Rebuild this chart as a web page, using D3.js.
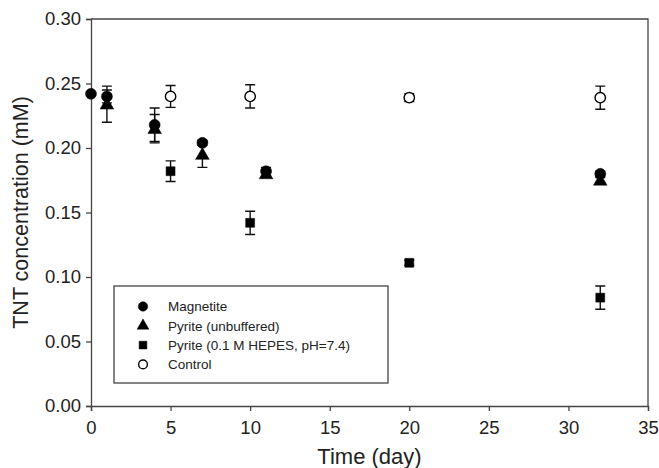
<!DOCTYPE html>
<html>
<head>
<meta charset="utf-8">
<script src="https://cdn.jsdelivr.net/npm/d3@7"></script>
<style>
  html, body { margin: 0; padding: 0; background: #fff; }
  svg { display: block; }
  text { font-family: "Liberation Sans", Arial, sans-serif; fill: #222; }
</style>
</head>
<body>
<svg id="chart" width="659" height="468"></svg>
<script>
// ---- data ----
const magnetiteDays = [0, 1, 4, 7, 11, 32];
const magnetiteValues = [0.242, 0.240, 0.218, 0.204, 0.182, 0.180];
const magnetiteErr = [0, 0.005, 0.013, 0.002, 0.003, 0.002];

const pyriteDays = [1, 4, 7, 11, 32];
const pyriteValues = [0.234, 0.215, 0.195, 0.180, 0.175];
const pyriteErr = [0.014, 0.011, 0.010, 0.002, 0.002];

const hepesDays = [5, 10, 20, 32];
const hepesValues = [0.182, 0.142, 0.111, 0.084];
const hepesErr = [0.008, 0.009, 0.002, 0.009];

const controlDays = [5, 10, 20, 32];
const controlValues = [0.240, 0.240, 0.239, 0.239];
const controlErr = [0.0085, 0.009, 0.003, 0.009];

const xTicks = [0, 5, 10, 15, 20, 25, 30, 35];
const yTicks = [0.00, 0.05, 0.10, 0.15, 0.20, 0.25, 0.30];
const legendLabels = ["Magnetite", "Pyrite (unbuffered)", "Pyrite (0.1 M HEPES, pH=7.4)", "Control"];

// ---- layout ----
const W = 659, H = 468;
const margin = { left: 91, right: 11, top: 19, bottom: 62 };
const svg = d3.select("#chart");
const x = d3.scaleLinear().domain([0, 35]).range([margin.left, W - margin.right]);
const y = d3.scaleLinear().domain([0, 0.30]).range([H - margin.bottom, margin.top]);
const axisColor = "#444";

// frame (top and right)
svg.append("path")
  .attr("d", `M${x(0)},${y(0.30)}H${x(35)}V${y(0)}`)
  .attr("fill", "none").attr("stroke", axisColor).attr("stroke-width", 1.3);

// axes
const xAxis = svg.append("g").attr("transform", `translate(0,${y(0)})`)
  .call(d3.axisBottom(x).tickValues(xTicks).tickFormat(d3.format("d")).tickSizeOuter(0).tickSize(5).tickPadding(10));
const yAxis = svg.append("g").attr("transform", `translate(${x(0)},0)`)
  .call(d3.axisLeft(y).tickValues(yTicks).tickFormat(d3.format(".2f")).tickSizeOuter(0).tickSize(5).tickPadding(5));
[xAxis, yAxis].forEach(g => {
  g.select(".domain").attr("stroke", axisColor).attr("stroke-width", 1.3);
  g.selectAll(".tick line").attr("stroke", axisColor).attr("stroke-width", 1.3);
  g.selectAll(".tick text").attr("font-size", 18.5).attr("fill", "#222")
    .attr("font-family", "Liberation Sans, Arial, sans-serif");
});

// axis titles
svg.append("text").attr("x", (x(0) + x(35)) / 2).attr("y", 464)
  .attr("text-anchor", "middle").attr("font-size", 22).text("Time (day)");
svg.append("text")
  .attr("transform", `translate(28,${(y(0) + y(0.30)) / 2}) rotate(-90)`)
  .attr("text-anchor", "middle").attr("font-size", 21.5).text("TNT concentration (mM)");

// series
const series = [
  { days: pyriteDays, vals: pyriteValues, err: pyriteErr, sym: d3.symbolTriangle, size: 80, fill: "#000" },
  { days: magnetiteDays, vals: magnetiteValues, err: magnetiteErr, sym: d3.symbolCircle, size: 95, fill: "#000" },
  { days: hepesDays, vals: hepesValues, err: hepesErr, sym: d3.symbolSquare, size: 80, fill: "#000" },
  { days: controlDays, vals: controlValues, err: controlErr, sym: d3.symbolCircle, size: 85, fill: "#fff" }
];
const cap = 5;
series.forEach(s => {
  const g = svg.append("g");
  s.days.forEach((d, i) => {
    const v = s.vals[i], e = s.err[i];
    if (e > 0) {
      const cx = x(d), y1 = y(v + e), y2 = y(v - e);
      g.append("path")
        .attr("d", `M${cx},${y1}V${y2}M${cx - cap},${y1}H${cx + cap}M${cx - cap},${y2}H${cx + cap}`)
        .attr("stroke", "#111").attr("stroke-width", 1.4).attr("fill", "none");
    }
  });
  s.days.forEach((d, i) => {
    g.append("path")
      .attr("d", d3.symbol().type(s.sym).size(s.size)())
      .attr("transform", `translate(${x(d)},${y(s.vals[i])})${s.sym === d3.symbolTriangle ? " translate(0,1)" : ""}`)
      .attr("fill", s.fill).attr("stroke", "#000").attr("stroke-width", s.fill === "#fff" ? 1.4 : 0.5);
  });
});

// legend
const lg = svg.append("g");
lg.append("rect").attr("x", 114).attr("y", 286).attr("width", 274).attr("height", 97)
  .attr("fill", "#fff").attr("stroke", axisColor).attr("stroke-width", 1.3);
const legendSyms = [
  { sym: d3.symbolCircle, size: 70, fill: "#000" },
  { sym: d3.symbolTriangle, size: 60, fill: "#000" },
  { sym: d3.symbolSquare, size: 60, fill: "#000" },
  { sym: d3.symbolCircle, size: 60, fill: "#fff" }
];
legendLabels.forEach((lab, i) => {
  const cy = 306.5 + i * 19.3;
  lg.append("path").attr("d", d3.symbol().type(legendSyms[i].sym).size(legendSyms[i].size)())
    .attr("transform", `translate(143,${cy})`)
    .attr("fill", legendSyms[i].fill).attr("stroke", "#000").attr("stroke-width", legendSyms[i].fill === "#fff" ? 1.4 : 0.5);
  lg.append("text").attr("x", 168).attr("y", cy).attr("dy", "0.35em")
    .attr("font-size", 13.5).text(lab);
});
</script>
</body>
</html>
